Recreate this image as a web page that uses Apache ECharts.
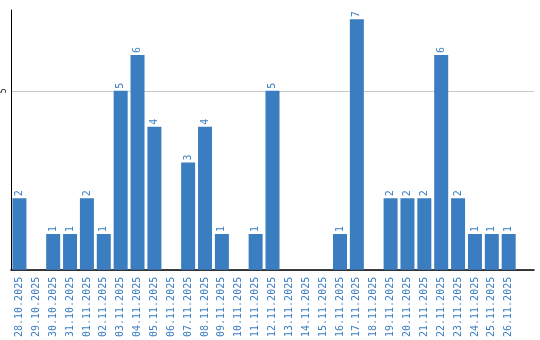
<!DOCTYPE html>
<html><head><meta charset="utf-8">
<script src="https://cdn.jsdelivr.net/npm/echarts@6/dist/echarts.min.js"></script>
<style>html,body{margin:0;padding:0;background:#fff}#c{width:540px;height:340px}</style>
</head><body><div id="c"></div>
<script>
const categories = ["28.10.2025","29.10.2025","30.10.2025","31.10.2025","01.11.2025","02.11.2025","03.11.2025","04.11.2025","05.11.2025","06.11.2025","07.11.2025","08.11.2025","09.11.2025","10.11.2025","11.11.2025","12.11.2025","13.11.2025","14.11.2025","15.11.2025","16.11.2025","17.11.2025","18.11.2025","19.11.2025","20.11.2025","21.11.2025","22.11.2025","23.11.2025","24.11.2025","25.11.2025","26.11.2025"];
const values = [2,0,1,1,2,1,5,6,4,0,3,4,1,0,1,5,0,0,0,1,7,0,2,2,2,6,2,1,1,1];
const yTicks = [5];
const blue = '#3b7dc1';
const chart = echarts.init(document.getElementById('c'));
chart.setOption({
  animation: false,
  grid: {left: 9, right: 6, top: 10, bottom: 70, containLabel: false},
  xAxis: {
    type: 'category', data: categories, boundaryGap: true, max: 30,
    axisLine: {lineStyle: {color: '#000', width: 1.5}},
    axisTick: {show: false},
    axisLabel: {rotate: 90, color: blue, fontFamily: 'DejaVu Sans Mono', fontSize: 10, margin: 7, interval: 0}
  },
  yAxis: {
    type: 'value', min: 0, max: 7.26, interval: 5,
    axisLine: {show: true, lineStyle: {color: '#000', width: 1}},
    axisTick: {show: false},
    splitLine: {show: true, lineStyle: {color: ['#c8c8c8', '#c8c8c8', 'rgba(0,0,0,0)'], width: 1}},
    axisLabel: {rotate: 90, color: '#000', fontFamily: 'DejaVu Sans Mono', fontSize: 8, margin: 3,
      formatter: v => yTicks.includes(v) ? String(v) : ''}
  },
  series: [{
    type: 'bar', data: values.map(v => v === 0 ? null : v), barWidth: 14,
    itemStyle: {color: blue},
    label: {show: true, position: 'top', rotate: 90, align: 'left', verticalAlign: 'middle', distance: 2,
      color: blue, fontFamily: 'DejaVu Sans Mono', fontSize: 10}
  }]
});
</script></body></html>
